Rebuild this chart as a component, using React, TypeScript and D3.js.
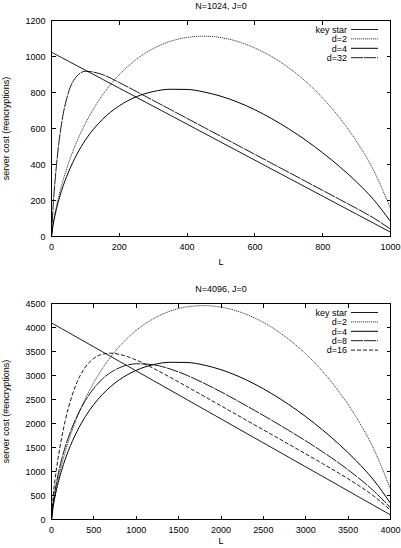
import * as d3 from "d3";

// N=1024, J=0
const topL = [0, 5, 10, 20, 30, 50, 75, 100, 150, 200, 250, 300, 350, 400, 450, 500, 550, 600, 650, 700, 750, 800, 850, 900, 950, 1000];
const topKeyStar = [1024, 1019, 1014, 1004, 994, 974, 949, 924, 874, 824, 774, 724, 674, 624, 574, 524, 474, 424, 374, 324, 274, 224, 174, 124, 74, 24];
const topD2 = [0, 71, 125, 212, 285, 406, 528, 628, 785, 899, 984, 1044, 1084, 1106, 1113, 1105, 1083, 1047, 999, 937, 861, 769, 659, 528, 368, 156];
const topD4 = [0, 67, 115, 193, 256, 358, 457, 536, 650, 726, 776, 805, 818, 817, 803, 779, 746, 704, 654, 598, 535, 465, 388, 303, 205, 84];
const topD32 = [0, 175, 298, 491, 631, 800, 891, 918, 900, 855, 806, 756, 706, 656, 606, 556, 506, 456, 406, 356, 306, 256, 206, 156, 103, 41];
const topXTicks = [0, 200, 400, 600, 800, 1000];
const topYTicks = [0, 200, 400, 600, 800, 1000, 1200];

// N=4096, J=0
const botL = [0, 20, 40, 80, 120, 160, 200, 300, 400, 500, 600, 700, 800, 1000, 1200, 1400, 1600, 1800, 2000, 2200, 2400, 2600, 2800, 3000, 3200, 3400, 3600, 3800, 4000];
const botKeyStar = [4096, 4076, 4056, 4016, 3976, 3936, 3896, 3796, 3696, 3596, 3496, 3396, 3296, 3096, 2896, 2696, 2496, 2296, 2096, 1896, 1696, 1496, 1296, 1096, 896, 696, 496, 296, 96];
const botD2 = [0, 290, 504, 853, 1146, 1401, 1630, 2118, 2519, 2856, 3144, 3391, 3603, 3941, 4181, 4341, 4430, 4456, 4424, 4337, 4196, 4002, 3754, 3449, 3082, 2644, 2119, 1477, 629];
const botD4 = [0, 271, 465, 775, 1029, 1246, 1437, 1833, 2146, 2399, 2604, 2773, 2910, 3108, 3225, 3276, 3271, 3217, 3121, 2987, 2819, 2621, 2395, 2143, 1864, 1557, 1216, 824, 339];
const botD8 = [0, 342, 580, 957, 1255, 1502, 1715, 2147, 2479, 2734, 2926, 3066, 3160, 3244, 3224, 3136, 3002, 2839, 2659, 2468, 2269, 2065, 1855, 1638, 1409, 1165, 898, 599, 243];
const botD16 = [0, 487, 806, 1299, 1703, 2043, 2329, 2855, 3177, 3358, 3443, 3464, 3441, 3322, 3152, 2963, 2767, 2568, 2368, 2168, 1968, 1768, 1567, 1366, 1163, 955, 736, 491, 193];
const botXTicks = [0, 500, 1000, 1500, 2000, 2500, 3000, 3500, 4000];
const botYTicks = [0, 500, 1000, 1500, 2000, 2500, 3000, 3500, 4000, 4500];

const FONT = "'Liberation Sans', Arial, sans-serif";

interface Series {
  name: string;
  values: number[];
  dash?: string;
  width: number;
}

interface PanelProps {
  title: string;
  top: number;
  bottom: number;
  xLabelY: number;
  xMax: number;
  yMax: number;
  xs: number[];
  xTicks: number[];
  yTicks: number[];
  series: Series[];
}

function Panel({ title, top, bottom, xLabelY, xMax, yMax, xs, xTicks, yTicks, series }: PanelProps) {
  const left = 51.5;
  const right = 390.5;
  const x = d3.scaleLinear().domain([0, xMax]).range([left, right]);
  const y = d3.scaleLinear().domain([0, yMax]).range([bottom, top]);
  const line = d3
    .line<number>()
    .x((_, i) => x(xs[i]))
    .y((d) => y(d))
    .curve(d3.curveMonotoneX);
  const tick = 4;

  return (
    <g>
      <text x={(left + right) / 2} y={top - 12} textAnchor="middle" fontSize={9}>
        {title}
      </text>

      {series.map((s) => (
        <path
          key={s.name}
          d={line(s.values) ?? ""}
          fill="none"
          stroke="#000"
          strokeWidth={s.width}
          strokeDasharray={s.dash}
        />
      ))}

      <rect
        x={left}
        y={top}
        width={right - left}
        height={bottom - top}
        fill="none"
        stroke="#000"
        strokeWidth={1}
        shapeRendering="crispEdges"
      />

      {/* ticks, mirrored on all four sides */}
      {xTicks.map((t) => (
        <g key={"x" + t}>
          <line x1={x(t)} x2={x(t)} y1={bottom} y2={bottom - tick} stroke="#000" shapeRendering="crispEdges" />
          <line x1={x(t)} x2={x(t)} y1={top} y2={top + tick} stroke="#000" shapeRendering="crispEdges" />
          <text x={x(t)} y={bottom + 13.5} textAnchor="middle" fontSize={9}>
            {t}
          </text>
        </g>
      ))}
      {yTicks.map((t) => (
        <g key={"y" + t}>
          <line x1={left} x2={left + tick} y1={y(t)} y2={y(t)} stroke="#000" shapeRendering="crispEdges" />
          <line x1={right} x2={right - tick} y1={y(t)} y2={y(t)} stroke="#000" shapeRendering="crispEdges" />
          <text x={45.5} y={y(t) + 3.2} textAnchor="end" fontSize={9}>
            {t}
          </text>
        </g>
      ))}

      <text x={(left + right) / 2} y={xLabelY} textAnchor="middle" fontSize={9}>
        L
      </text>
      <text
        transform={`translate(8.5,${(top + bottom) / 2}) rotate(-90)`}
        textAnchor="middle"
        fontSize={9}
      >
        server cost (#encryptions)
      </text>

      {/* legend */}
      {series.map((s, i) => {
        const ly = top + 9 + i * 9.4;
        return (
          <g key={"k" + s.name}>
            <text x={347} y={ly + 3.2} textAnchor="end" fontSize={9}>
              {s.name}
            </text>
            <line
              x1={351}
              x2={378}
              y1={ly}
              y2={ly}
              stroke="#000"
              strokeWidth={s.width}
              strokeDasharray={s.dash}
            />
          </g>
        );
      })}
    </g>
  );
}

export default function App() {
  const topSeries: Series[] = [
    { name: "key star", values: topKeyStar, width: 0.9 },
    { name: "d=2", values: topD2, width: 0.75, dash: "1.2,0.8" },
    { name: "d=4", values: topD4, width: 1 },
    { name: "d=32", values: topD32, width: 0.9, dash: "12,1" },
  ];
  const botSeries: Series[] = [
    { name: "key star", values: botKeyStar, width: 0.9 },
    { name: "d=2", values: botD2, width: 0.75, dash: "1.2,0.8" },
    { name: "d=4", values: botD4, width: 1 },
    { name: "d=8", values: botD8, width: 0.9, dash: "12,1" },
    { name: "d=16", values: botD16, width: 0.9, dash: "4,2" },
  ];

  return (
    <svg
      width={401}
      height={548}
      style={{ position: "absolute", left: 0, top: 0, background: "#fff" }}
      fontFamily={FONT}
    >
      <rect width={401} height={548} fill="#fff" />
      <Panel
        title="N=1024, J=0"
        top={20.5}
        bottom={236.5}
        xLabelY={265}
        xMax={1000}
        yMax={1200}
        xs={topL}
        xTicks={topXTicks}
        yTicks={topYTicks}
        series={topSeries}
      />
      <Panel
        title="N=4096, J=0"
        top={303.5}
        bottom={519.5}
        xLabelY={543.5}
        xMax={4000}
        yMax={4500}
        xs={botL}
        xTicks={botXTicks}
        yTicks={botYTicks}
        series={botSeries}
      />
    </svg>
  );
}
